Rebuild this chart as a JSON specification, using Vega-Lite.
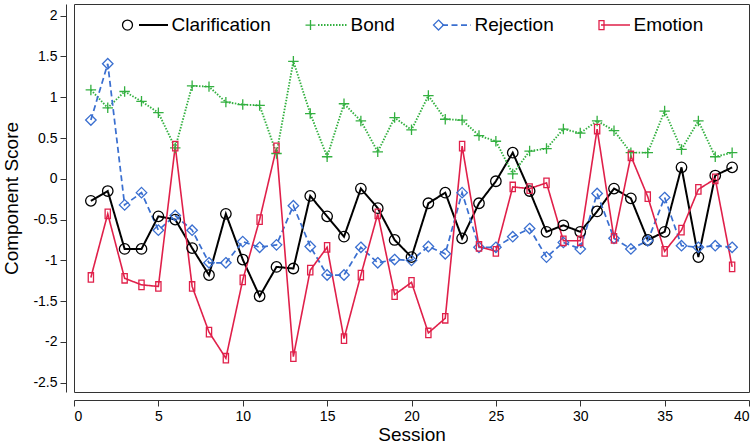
{
  "$schema": "https://vega.github.io/schema/vega-lite/v6.json",
  "width": 675,
  "height": 388,
  "autosize": {"type": "none"},
  "padding": {"left": 74, "top": 4, "right": 6, "bottom": 53},
  "config": {
    "font": "Liberation Sans",
    "view": {"stroke": "#333333", "strokeWidth": 1},
    "axis": {
      "grid": false,
      "domainColor": "#333333",
      "tickColor": "#333333",
      "tickSize": 6,
      "labelColor": "#000000",
      "labelFont": "Liberation Sans",
      "labelFontSize": 14,
      "titleFont": "Liberation Sans",
      "titleFontSize": 19,
      "titleFontWeight": "normal",
      "titleColor": "#000000"
    }
  },
  "data": {
    "values": [
      {"session": 1, "series": "Clarification", "score": -0.27},
      {"session": 2, "series": "Clarification", "score": -0.15},
      {"session": 3, "series": "Clarification", "score": -0.86},
      {"session": 4, "series": "Clarification", "score": -0.86},
      {"session": 5, "series": "Clarification", "score": -0.46},
      {"session": 6, "series": "Clarification", "score": -0.50},
      {"session": 7, "series": "Clarification", "score": -0.85},
      {"session": 8, "series": "Clarification", "score": -1.18},
      {"session": 9, "series": "Clarification", "score": -0.43},
      {"session": 10, "series": "Clarification", "score": -0.99},
      {"session": 11, "series": "Clarification", "score": -1.44},
      {"session": 12, "series": "Clarification", "score": -1.08},
      {"session": 13, "series": "Clarification", "score": -1.10},
      {"session": 14, "series": "Clarification", "score": -0.21},
      {"session": 15, "series": "Clarification", "score": -0.46},
      {"session": 16, "series": "Clarification", "score": -0.71},
      {"session": 17, "series": "Clarification", "score": -0.12},
      {"session": 18, "series": "Clarification", "score": -0.36},
      {"session": 19, "series": "Clarification", "score": -0.75},
      {"session": 20, "series": "Clarification", "score": -0.96},
      {"session": 21, "series": "Clarification", "score": -0.30},
      {"session": 22, "series": "Clarification", "score": -0.17},
      {"session": 23, "series": "Clarification", "score": -0.73},
      {"session": 24, "series": "Clarification", "score": -0.30},
      {"session": 25, "series": "Clarification", "score": -0.03},
      {"session": 26, "series": "Clarification", "score": 0.32},
      {"session": 27, "series": "Clarification", "score": -0.15},
      {"session": 28, "series": "Clarification", "score": -0.65},
      {"session": 29, "series": "Clarification", "score": -0.57},
      {"session": 30, "series": "Clarification", "score": -0.65},
      {"session": 31, "series": "Clarification", "score": -0.40},
      {"session": 32, "series": "Clarification", "score": -0.12},
      {"session": 33, "series": "Clarification", "score": -0.24},
      {"session": 34, "series": "Clarification", "score": -0.75},
      {"session": 35, "series": "Clarification", "score": -0.65},
      {"session": 36, "series": "Clarification", "score": 0.14},
      {"session": 37, "series": "Clarification", "score": -0.96},
      {"session": 38, "series": "Clarification", "score": 0.04},
      {"session": 39, "series": "Clarification", "score": 0.14},
      {"session": 1, "series": "Bond", "score": 1.09},
      {"session": 2, "series": "Bond", "score": 0.87},
      {"session": 3, "series": "Bond", "score": 1.07},
      {"session": 4, "series": "Bond", "score": 0.95},
      {"session": 5, "series": "Bond", "score": 0.81},
      {"session": 6, "series": "Bond", "score": 0.38},
      {"session": 7, "series": "Bond", "score": 1.14},
      {"session": 8, "series": "Bond", "score": 1.13},
      {"session": 9, "series": "Bond", "score": 0.94},
      {"session": 10, "series": "Bond", "score": 0.91},
      {"session": 11, "series": "Bond", "score": 0.90},
      {"session": 12, "series": "Bond", "score": 0.31},
      {"session": 13, "series": "Bond", "score": 1.44},
      {"session": 14, "series": "Bond", "score": 0.80},
      {"session": 15, "series": "Bond", "score": 0.27},
      {"session": 16, "series": "Bond", "score": 0.92},
      {"session": 17, "series": "Bond", "score": 0.71},
      {"session": 18, "series": "Bond", "score": 0.33},
      {"session": 19, "series": "Bond", "score": 0.75},
      {"session": 20, "series": "Bond", "score": 0.60},
      {"session": 21, "series": "Bond", "score": 1.02},
      {"session": 22, "series": "Bond", "score": 0.73},
      {"session": 23, "series": "Bond", "score": 0.72},
      {"session": 24, "series": "Bond", "score": 0.53},
      {"session": 25, "series": "Bond", "score": 0.46},
      {"session": 26, "series": "Bond", "score": 0.06},
      {"session": 27, "series": "Bond", "score": 0.34},
      {"session": 28, "series": "Bond", "score": 0.37},
      {"session": 29, "series": "Bond", "score": 0.61},
      {"session": 30, "series": "Bond", "score": 0.56},
      {"session": 31, "series": "Bond", "score": 0.71},
      {"session": 32, "series": "Bond", "score": 0.59},
      {"session": 33, "series": "Bond", "score": 0.32},
      {"session": 34, "series": "Bond", "score": 0.32},
      {"session": 35, "series": "Bond", "score": 0.83},
      {"session": 36, "series": "Bond", "score": 0.36},
      {"session": 37, "series": "Bond", "score": 0.71},
      {"session": 38, "series": "Bond", "score": 0.27},
      {"session": 39, "series": "Bond", "score": 0.32},
      {"session": 1, "series": "Rejection", "score": 0.72},
      {"session": 2, "series": "Rejection", "score": 1.41},
      {"session": 3, "series": "Rejection", "score": -0.32},
      {"session": 4, "series": "Rejection", "score": -0.17},
      {"session": 5, "series": "Rejection", "score": -0.63},
      {"session": 6, "series": "Rejection", "score": -0.45},
      {"session": 7, "series": "Rejection", "score": -0.63},
      {"session": 8, "series": "Rejection", "score": -1.03},
      {"session": 9, "series": "Rejection", "score": -1.03},
      {"session": 10, "series": "Rejection", "score": -0.77},
      {"session": 11, "series": "Rejection", "score": -0.84},
      {"session": 12, "series": "Rejection", "score": -0.81},
      {"session": 13, "series": "Rejection", "score": -0.33},
      {"session": 14, "series": "Rejection", "score": -0.83},
      {"session": 15, "series": "Rejection", "score": -1.18},
      {"session": 16, "series": "Rejection", "score": -1.18},
      {"session": 17, "series": "Rejection", "score": -0.84},
      {"session": 18, "series": "Rejection", "score": -1.03},
      {"session": 19, "series": "Rejection", "score": -0.99},
      {"session": 20, "series": "Rejection", "score": -1.00},
      {"session": 21, "series": "Rejection", "score": -0.83},
      {"session": 22, "series": "Rejection", "score": -0.92},
      {"session": 23, "series": "Rejection", "score": -0.17},
      {"session": 24, "series": "Rejection", "score": -0.84},
      {"session": 25, "series": "Rejection", "score": -0.84},
      {"session": 26, "series": "Rejection", "score": -0.71},
      {"session": 27, "series": "Rejection", "score": -0.61},
      {"session": 28, "series": "Rejection", "score": -0.96},
      {"session": 29, "series": "Rejection", "score": -0.78},
      {"session": 30, "series": "Rejection", "score": -0.86},
      {"session": 31, "series": "Rejection", "score": -0.18},
      {"session": 32, "series": "Rejection", "score": -0.73},
      {"session": 33, "series": "Rejection", "score": -0.86},
      {"session": 34, "series": "Rejection", "score": -0.76},
      {"session": 35, "series": "Rejection", "score": -0.23},
      {"session": 36, "series": "Rejection", "score": -0.82},
      {"session": 37, "series": "Rejection", "score": -0.84},
      {"session": 38, "series": "Rejection", "score": -0.82},
      {"session": 39, "series": "Rejection", "score": -0.84},
      {"session": 1, "series": "Emotion", "score": -1.21},
      {"session": 2, "series": "Emotion", "score": -0.43},
      {"session": 3, "series": "Emotion", "score": -1.22},
      {"session": 4, "series": "Emotion", "score": -1.30},
      {"session": 5, "series": "Emotion", "score": -1.32},
      {"session": 6, "series": "Emotion", "score": 0.40},
      {"session": 7, "series": "Emotion", "score": -1.32},
      {"session": 8, "series": "Emotion", "score": -1.88},
      {"session": 9, "series": "Emotion", "score": -2.20},
      {"session": 10, "series": "Emotion", "score": -1.24},
      {"session": 11, "series": "Emotion", "score": -0.50},
      {"session": 12, "series": "Emotion", "score": 0.38},
      {"session": 13, "series": "Emotion", "score": -2.18},
      {"session": 14, "series": "Emotion", "score": -1.12},
      {"session": 15, "series": "Emotion", "score": -0.84},
      {"session": 16, "series": "Emotion", "score": -1.96},
      {"session": 17, "series": "Emotion", "score": -1.18},
      {"session": 18, "series": "Emotion", "score": -0.43},
      {"session": 19, "series": "Emotion", "score": -1.42},
      {"session": 20, "series": "Emotion", "score": -1.27},
      {"session": 21, "series": "Emotion", "score": -1.89},
      {"session": 22, "series": "Emotion", "score": -1.71},
      {"session": 23, "series": "Emotion", "score": 0.40},
      {"session": 24, "series": "Emotion", "score": -0.83},
      {"session": 25, "series": "Emotion", "score": -0.89},
      {"session": 26, "series": "Emotion", "score": -0.10},
      {"session": 27, "series": "Emotion", "score": -0.12},
      {"session": 28, "series": "Emotion", "score": -0.05},
      {"session": 29, "series": "Emotion", "score": -0.76},
      {"session": 30, "series": "Emotion", "score": -0.76},
      {"session": 31, "series": "Emotion", "score": 0.61},
      {"session": 32, "series": "Emotion", "score": -0.73},
      {"session": 33, "series": "Emotion", "score": 0.28},
      {"session": 34, "series": "Emotion", "score": -0.22},
      {"session": 35, "series": "Emotion", "score": -0.89},
      {"session": 36, "series": "Emotion", "score": -0.63},
      {"session": 37, "series": "Emotion", "score": -0.13},
      {"session": 38, "series": "Emotion", "score": 0.00},
      {"session": 39, "series": "Emotion", "score": -1.08}
    ]
  },
  "encoding": {
    "x": {
      "field": "session",
      "type": "quantitative",
      "scale": {"domain": [0, 40], "nice": false, "zero": false},
      "axis": {
        "title": "Session",
        "values": [0, 5, 10, 15, 20, 25, 30, 35, 40],
        "offset": 8,
        "labelPadding": 3,
        "titlePadding": 2
      }
    },
    "y": {
      "field": "score",
      "type": "quantitative",
      "scale": {"domain": [-2.614, 2.143], "nice": false, "zero": false},
      "axis": {
        "title": "Component Score",
        "values": [-2.5, -2, -1.5, -1, -0.5, 0, 0.5, 1, 1.5, 2],
        "labelExpr": "datum.value + ''",
        "offset": 8,
        "labelPadding": 3,
        "titlePadding": 11
      }
    }
  },
  "layer": [
    {
      "mark": {"type": "line"},
      "encoding": {
        "color": {
          "field": "series",
          "type": "nominal",
          "scale": {
            "domain": ["Clarification", "Bond", "Rejection", "Emotion"],
            "range": ["#000000", "#33b040", "#3a6fd0", "#e0204a"]
          },
          "legend": {
            "title": null,
            "orient": "none",
            "legendX": 64,
            "legendY": 5.3,
            "direction": "horizontal",
            "symbolType": "stroke",
            "symbolSize": 841,
            "symbolStrokeWidth": 2,
            "labelFont": "Liberation Sans",
            "labelFontSize": 19,
            "labelColor": "#000000",
            "labelOffset": 2.5,
            "columnPadding": 43,
            "padding": 0
          }
        },
        "strokeDash": {
          "field": "series",
          "type": "nominal",
          "scale": {
            "domain": ["Clarification", "Bond", "Rejection", "Emotion"],
            "range": [[1, 0], [1.5, 1.5], [6, 3.5], [1, 0]]
          },
          "legend": {
            "title": null,
            "orient": "none",
            "legendX": 64,
            "legendY": 5.3,
            "direction": "horizontal",
            "symbolType": "stroke",
            "symbolSize": 841,
            "symbolStrokeWidth": 2,
            "labelFont": "Liberation Sans",
            "labelFontSize": 19,
            "labelColor": "#000000",
            "labelOffset": 2.5,
            "columnPadding": 43,
            "padding": 0
          }
        },
        "strokeWidth": {
          "field": "series",
          "type": "nominal",
          "scale": {
            "domain": ["Clarification", "Bond", "Rejection", "Emotion"],
            "range": [2, 1.6, 2.4, 2]
          },
          "legend": null
        }
      }
    },
    {
      "mark": {"type": "point", "filled": false, "size": 110, "strokeWidth": 1.3, "opacity": 1},
      "encoding": {
        "stroke": {
          "field": "series",
          "type": "nominal",
          "scale": {
            "domain": ["Clarification", "Bond", "Rejection", "Emotion", "-"],
            "range": ["#000000", "#33b040", "#3a6fd0", "#e0204a", "#999999"]
          },
          "legend": {
            "title": null,
            "orient": "none",
            "legendX": 44,
            "legendY": 11.3,
            "direction": "horizontal",
            "values": ["Clarification", "Bond", "Rejection", "Emotion"],
            "symbolSize": 100,
            "symbolStrokeWidth": 1.3,
            "labelFont": "Liberation Sans",
            "labelFontSize": 19,
            "labelOpacity": 0,
            "labelOffset": 36.5,
            "columnPadding": 28,
            "padding": 0
          }
        },
        "shape": {
          "field": "series",
          "type": "nominal",
          "scale": {
            "domain": ["Clarification", "Bond", "Rejection", "Emotion", "-"],
            "range": ["circle", "M-1,0H1M0,-1V1", "M0,-1L1,0L0,1L-1,0Z", "M-0.5,-0.9H0.5V0.9H-0.5Z", "circle"]
          },
          "legend": {
            "title": null,
            "orient": "none",
            "legendX": 44,
            "legendY": 11.3,
            "direction": "horizontal",
            "values": ["Clarification", "Bond", "Rejection", "Emotion"],
            "symbolSize": 100,
            "symbolStrokeWidth": 1.3,
            "labelFont": "Liberation Sans",
            "labelFontSize": 19,
            "labelOpacity": 0,
            "labelOffset": 36.5,
            "columnPadding": 28,
            "padding": 0
          }
        }
      }
    }
  ]
}
